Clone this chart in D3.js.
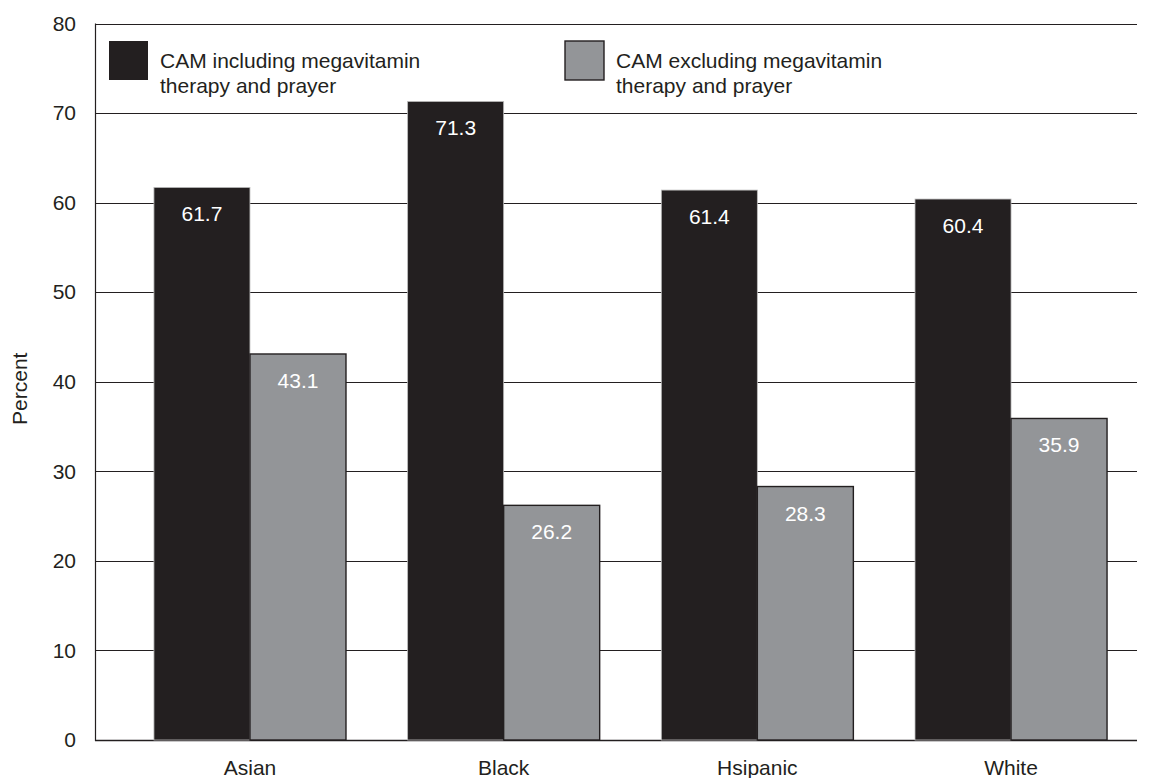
<!DOCTYPE html>
<html>
<head>
<meta charset="utf-8">
<script src="https://cdn.jsdelivr.net/npm/d3@7"></script>
<style>
  html, body { margin: 0; padding: 0; background: #fff; }
  svg { display: block; font-family: Arial, "Liberation Sans", Helvetica, sans-serif; }
</style>
</head>
<body>
<svg id="chart" width="1157" height="778"></svg>
<script>
// Data
const categories = ["Asian", "Black", "Hsipanic", "White"];
const seriesNames = [
  ["CAM including megavitamin", "therapy and prayer"],
  ["CAM excluding megavitamin", "therapy and prayer"]
];
const includingValues = [61.7, 71.3, 61.4, 60.4];
const excludingValues = [43.1, 26.2, 28.3, 35.9];
const yTicks = [0, 10, 20, 30, 40, 50, 60, 70, 80];

const seriesKeys = ["including", "excluding"];
const seriesColors = { including: "#231f20", excluding: "#939598" };
const rows = categories.map((c, i) => ({
  category: c,
  including: includingValues[i],
  excluding: excludingValues[i]
}));

const svg = d3.select("#chart");
const ink = "#231f20";
const fontSize = 21;

const plot = { left: 95, right: 1137, top: 23.5, bottom: 740 };

const y = d3.scaleLinear().domain([0, 80]).range([plot.bottom, plot.top]);

const x0 = d3.scaleBand()
  .domain(categories)
  .range([123, 1138])
  .paddingInner(0.243)
  .paddingOuter(0.122);

const x1 = d3.scaleBand()
  .domain(seriesKeys)
  .range([0, x0.bandwidth()])
  .padding(0);

// Horizontal gridlines
svg.append("g")
  .selectAll("line")
  .data(yTicks)
  .join("line")
  .attr("x1", plot.left)
  .attr("x2", plot.right)
  .attr("y1", d => Math.round(y(d)) + 0.5)
  .attr("y2", d => Math.round(y(d)) + 0.5)
  .attr("stroke", ink)
  .attr("stroke-width", d => d === 0 ? 1.6 : 1.1);

// Y axis (labels only; the vertical line is drawn separately)
const yAxis = d3.axisLeft(y).tickValues(yTicks).tickSize(0).tickPadding(19);
const gy = svg.append("g")
  .attr("transform", `translate(${plot.left},0)`)
  .call(yAxis);
gy.select(".domain").remove();
gy.selectAll("text")
  .attr("font-size", fontSize)
  .attr("fill", ink)
  .attr("font-family", "Arial, 'Liberation Sans', sans-serif");

svg.append("line")
  .attr("x1", plot.left + 0.5).attr("x2", plot.left + 0.5)
  .attr("y1", plot.top).attr("y2", plot.bottom + 1)
  .attr("stroke", ink).attr("stroke-width", 1.2);

// Y axis title
svg.append("text")
  .attr("transform", `translate(27,${(plot.top + plot.bottom) / 2 + 7}) rotate(-90)`)
  .attr("text-anchor", "middle")
  .attr("font-size", fontSize)
  .attr("fill", ink)
  .text("Percent");

// Bars
const groups = svg.append("g")
  .selectAll("g")
  .data(rows)
  .join("g")
  .attr("transform", d => `translate(${x0(d.category)},0)`);

groups.selectAll("rect")
  .data(d => seriesKeys.map(k => ({ key: k, value: d[k] })))
  .join("rect")
  .attr("x", d => x1(d.key))
  .attr("y", d => y(d.value))
  .attr("width", x1.bandwidth())
  .attr("height", d => y(0) - y(d.value))
  .attr("fill", d => seriesColors[d.key])
  .attr("stroke", d => d.key === "excluding" ? ink : "#bcbcbc")
  .attr("stroke-width", d => d.key === "excluding" ? 1.4 : 0.8);

// Value labels inside the bars
groups.selectAll("text.value")
  .data(d => seriesKeys.map(k => ({ key: k, value: d[k] })))
  .join("text")
  .attr("class", "value")
  .attr("x", d => x1(d.key) + x1.bandwidth() / 2)
  .attr("y", d => y(d.value) + 34)
  .attr("text-anchor", "middle")
  .attr("font-size", fontSize)
  .attr("fill", "#ffffff")
  .text(d => d.value.toFixed(1));

// X axis category labels
svg.append("g")
  .selectAll("text")
  .data(categories)
  .join("text")
  .attr("x", d => x0(d) + x0.bandwidth() / 2)
  .attr("y", 775)
  .attr("text-anchor", "middle")
  .attr("font-size", fontSize)
  .attr("fill", ink)
  .text(d => d);

// Legend
const legendX = [109, 565];
const legend = svg.append("g")
  .selectAll("g")
  .data(seriesKeys)
  .join("g")
  .attr("transform", (d, i) => `translate(${legendX[i]},41)`);

legend.append("rect")
  .attr("x", 0).attr("y", 0)
  .attr("width", 39).attr("height", 39)
  .attr("fill", d => seriesColors[d])
  .attr("stroke", ink)
  .attr("stroke-width", d => d === "excluding" ? 1.4 : 0);

legend.append("text")
  .attr("x", 51)
  .attr("y", 27)
  .attr("font-size", fontSize)
  .attr("fill", ink)
  .selectAll("tspan")
  .data((d, i) => seriesNames[i])
  .join("tspan")
  .attr("x", 51)
  .attr("dy", (d, i) => i === 0 ? 0 : 25)
  .text(d => d);
</script>
</body>
</html>
